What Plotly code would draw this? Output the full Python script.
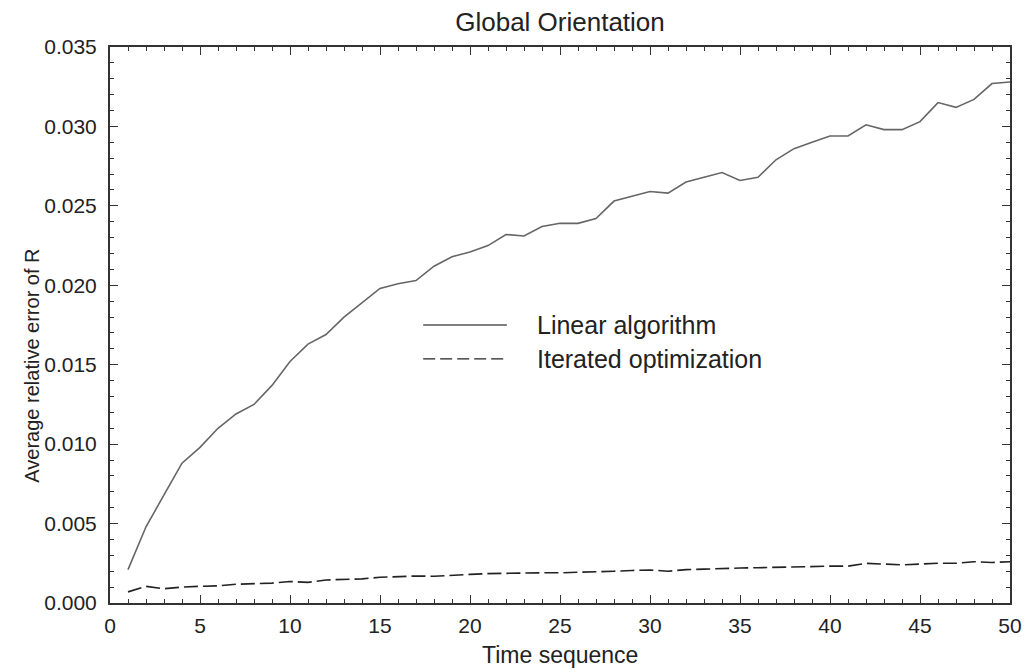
import plotly.graph_objects as go

time_seq = list(range(1, 51))

linear_algorithm = [
    0.0021, 0.0048, 0.0068, 0.0088, 0.0098, 0.0110, 0.0119, 0.0125, 0.0137, 0.0152,
    0.0163, 0.0169, 0.0180, 0.0189, 0.0198, 0.0201, 0.0203, 0.0212, 0.0218, 0.0221,
    0.0225, 0.0232, 0.0231, 0.0237, 0.0239, 0.0239, 0.0242, 0.0253, 0.0256, 0.0259,
    0.0258, 0.0265, 0.0268, 0.0271, 0.0266, 0.0268, 0.0279, 0.0286, 0.0290, 0.0294,
    0.0294, 0.0301, 0.0298, 0.0298, 0.0303, 0.0315, 0.0312, 0.0317, 0.0327, 0.0328,
]

iterated_optimization = [
    0.00070, 0.00105, 0.00090, 0.00100, 0.00105, 0.00108, 0.00118, 0.00120, 0.00125, 0.00135,
    0.00130, 0.00145, 0.00148, 0.00152, 0.00162, 0.00165, 0.00170, 0.00168, 0.00172, 0.00180,
    0.00185, 0.00188, 0.00188, 0.00190, 0.00190, 0.00192, 0.00195, 0.00200, 0.00205, 0.00208,
    0.00200, 0.00210, 0.00213, 0.00218, 0.00220, 0.00222, 0.00225, 0.00225, 0.00228, 0.00232,
    0.00232, 0.00250, 0.00245, 0.00240, 0.00245, 0.00250, 0.00250, 0.00260, 0.00255, 0.00260,
]

series_names = ["Linear algorithm", "Iterated optimization"]
x_ticks = [0, 5, 10, 15, 20, 25, 30, 35, 40, 45, 50]
y_ticks = [0.000, 0.005, 0.010, 0.015, 0.020, 0.025, 0.030, 0.035]

FONT = "Liberation Sans, Arial, Helvetica, sans-serif"
TXT = "#222222"

fig = go.Figure()
fig.add_trace(go.Scatter(x=time_seq, y=linear_algorithm, mode="lines",
                         name=series_names[0], showlegend=False,
                         line=dict(color="#666666", width=1.6)))
fig.add_trace(go.Scatter(x=time_seq, y=iterated_optimization, mode="lines",
                         name=series_names[1], showlegend=False,
                         line=dict(color="#222222", width=1.6, dash="14px,5px")))

# legend drawn as sample lines + text
leg_y = [0.50, 0.439]
dashes = ["solid", "12px,5px"]
colors = ["#555555", "#222222"]
for name, yy, dsh, col in zip(series_names, leg_y, dashes, colors):
    fig.add_shape(type="line", xref="paper", yref="paper",
                  x0=0.348, x1=0.441, y0=yy, y1=yy,
                  line=dict(color=col, width=1.3, dash=dsh))
    fig.add_annotation(xref="paper", yref="paper", x=0.472, y=yy,
                       text=name, showarrow=False, xanchor="left", yanchor="middle",
                       font=dict(family=FONT, size=25, color=TXT))

# axis titles
fig.add_annotation(xref="paper", yref="paper", x=0.5, y=-0.0935,
                   text="Time sequence", showarrow=False,
                   xanchor="center", yanchor="middle",
                   font=dict(family=FONT, size=23, color=TXT))
fig.add_annotation(xref="paper", yref="paper", x=-0.0861, y=0.426,
                   text="Average relative error of R", showarrow=False,
                   textangle=-90, xanchor="center", yanchor="middle",
                   font=dict(family=FONT, size=20, color=TXT))

axis_common = dict(
    showline=True, linecolor="#333333", linewidth=2, mirror="ticks",
    ticks="inside", ticklen=8, tickwidth=1.2, tickcolor="#333333",
    showgrid=False, zeroline=False,
    tickfont=dict(family=FONT, size=21, color=TXT),
)

fig.update_xaxes(range=[0, 50], tickvals=x_ticks, ticklabelstandoff=3,
                 minor=dict(dtick=1, ticks="inside", ticklen=4, tickcolor="#333333", showgrid=False),
                 **axis_common)
fig.update_yaxes(range=[0, 0.035], tickvals=y_ticks, tickformat=".3f", ticklabelstandoff=7,
                 minor=dict(dtick=0.001, ticks="inside", ticklen=4, tickcolor="#333333", showgrid=False),
                 **axis_common)

fig.update_layout(
    width=1034, height=672,
    margin=dict(l=110, r=18, t=47, b=69),
    paper_bgcolor="white", plot_bgcolor="white",
    title=dict(text="Global Orientation", x=0.5, xref="paper", xanchor="center",
               y=1 - 22 / 672, yanchor="middle",
               font=dict(family=FONT, size=26, color=TXT)),
    font=dict(family=FONT, color=TXT),
)

fig.write_html("out.html")
